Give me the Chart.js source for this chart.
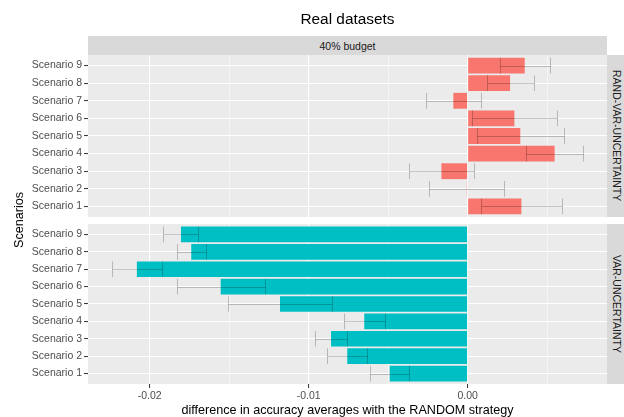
<!DOCTYPE html>
<html><head><meta charset="utf-8">
<script src="https://cdn.jsdelivr.net/npm/chart.js@4/dist/chart.umd.min.js"></script>
<style>
html,body{margin:0;padding:0;background:#fff;}
#wrap{position:relative;width:624px;height:417px;overflow:hidden;font-family:"Liberation Sans",Arial,sans-serif;}
canvas{position:absolute;left:0;top:0;}
.t{position:absolute;white-space:nowrap;}
.strip{position:absolute;background:#D9D9D9;color:#1A1A1A;font-size:10.5px;display:flex;align-items:center;justify-content:center;}
.vr{writing-mode:vertical-rl;}
</style></head><body>
<div id="wrap">
<canvas id="cTop" width="624" height="417" style="width:624px;height:417px"></canvas>
<canvas id="cBot" width="624" height="417" style="width:624px;height:417px"></canvas>
<div class="t" id="title" style="left:347.5px;top:11px;transform:translateX(-50%);font-size:15.4px;line-height:16px;color:#000">Real datasets</div>
<div class="strip" id="stripTop" style="left:88px;top:36px;width:519px;height:19px;"></div>
<div class="strip" id="stripR1" style="left:607px;top:55px;width:20px;height:162px;"><span class="vr"></span></div>
<div class="strip" id="stripR2" style="left:607px;top:224px;width:20px;height:160px;"><span class="vr"></span></div>
<div class="t" id="xtitle" style="left:347.5px;top:403px;transform:translateX(-50%);font-size:12.6px;line-height:14px;color:#000">difference in accuracy averages with the RANDOM strategy</div>
<div class="t" id="ytitle" style="left:19px;top:219.5px;transform:translate(-50%,-50%) rotate(-90deg);font-size:12.6px;line-height:14px;color:#000">Scenarios</div>
</div>
<script>
const categories = ['Scenario 1','Scenario 2','Scenario 3','Scenario 4','Scenario 5','Scenario 6','Scenario 7','Scenario 8','Scenario 9'];
const budgetLabel = '40% budget';
const strategies = ['RAND-VAR-UNCERTAINTY','VAR-UNCERTAINTY'];
const randVarMean = [0.00338, -0.00005, -0.00165, 0.00547, 0.00331, 0.00294, -0.0009, 0.00267, 0.00359];
const randVarSd   = [0.00257, 0.00236, 0.00206, 0.00181, 0.00272, 0.00265, 0.00173, 0.00148, 0.00156];
const varMean = [-0.0049, -0.00757, -0.00859, -0.0065, -0.0118, -0.01553, -0.0208, -0.01738, -0.01803];
const varSd   = [0.00123, 0.00126, 0.00100, 0.00129, 0.00325, 0.00276, 0.00159, 0.00092, 0.00110];
const xMajorTicks = [-0.02, -0.01, 0.00];
const xMinorTicks = [-0.015, -0.005, 0.005];

document.getElementById('stripTop').textContent = budgetLabel;
document.querySelector('#stripR1 span').textContent = strategies[0];
document.querySelector('#stripR2 span').textContent = strategies[1];

// ggplot-like continuous range: data extent with 5% expansion
const lows = randVarMean.map((m,i)=>m-randVarSd[i]).concat(varMean.map((m,i)=>m-varSd[i]));
const highs = randVarMean.map((m,i)=>m+randVarSd[i]).concat(varMean.map((m,i)=>m+varSd[i]));
const lo = Math.min(0, ...lows), hi = Math.max(0, ...highs);
const ext = (hi - lo) * 0.05;
const X_MIN = lo - ext, X_MAX = hi + ext;
const allXTicks = xMajorTicks.concat(xMinorTicks).sort((a,b)=>a-b);
const isMajor = v => xMajorTicks.some(t => Math.abs(t - v) < 1e-9);

const FONT = {family: '"Liberation Sans", Arial, sans-serif', size: 10.5};

const panelBg = {
  id: 'panelBg',
  beforeDraw(chart) {
    const {ctx, chartArea: a} = chart;
    ctx.save();
    ctx.fillStyle = '#EBEBEB';
    ctx.fillRect(a.left, a.top, a.right - a.left, a.bottom - a.top);
    ctx.restore();
  }
};
const errorBars = {
  id: 'errorBars',
  afterDatasetsDraw(chart) {
    const {ctx, scales: {x, y}} = chart;
    const ds = chart.data.datasets[0];
    ctx.save();
    ctx.strokeStyle = 'rgba(0,0,0,0.22)';
    ctx.lineWidth = 1;
    ds.data.forEach((p, i) => {
      const s = ds.sd[i];
      const x0 = Math.round(x.getPixelForValue(p.x - s)) + 0.5;
      const x1 = Math.round(x.getPixelForValue(p.x + s)) + 0.5;
      const yc = Math.round(y.getPixelForValue(p.y)) + 0.5;
      const yt = y.getPixelForValue(p.y + 0.45), yb = y.getPixelForValue(p.y - 0.45);
      ctx.beginPath();
      ctx.moveTo(x0, yc); ctx.lineTo(x1, yc);
      ctx.moveTo(x0, yt); ctx.lineTo(x0, yb);
      ctx.moveTo(x1, yt); ctx.lineTo(x1, yb);
      ctx.stroke();
    });
    ctx.restore();
  }
};

function makeChart(id, means, sds, color, top, bottomPad, showX) {
  return new Chart(document.getElementById(id), {
    type: 'bar',
    data: {
      datasets: [{
        data: categories.map((c, i) => ({x: means[i], y: i + 1})),
        sd: sds,
        backgroundColor: color,
        borderWidth: 0,
        barPercentage: 0.9,
        categoryPercentage: 1.0
      }]
    },
    options: {
      responsive: false,
      animation: false,
      indexAxis: 'y',
      layout: {padding: {left: 0, right: 624 - 607, top: top, bottom: bottomPad}},
      plugins: {legend: {display: false}, tooltip: {enabled: false}, title: {display: false}},
      scales: {
        x: {
          type: 'linear', min: X_MIN, max: X_MAX, offset: false,
          afterBuildTicks: ax => { ax.ticks = allXTicks.map(v => ({value: v})); },
          afterFit: ax => { ax.height = showX ? 33 : 0; },
          border: {display: false},
          grid: {
            offset: false,
            color: '#FFFFFF',
            lineWidth: c => (c.tick && isMajor(c.tick.value)) ? 1.1 : 0.55,
            drawTicks: showX,
            tickLength: 4,
            tickColor: c => (c.tick && isMajor(c.tick.value)) ? '#333333' : 'rgba(0,0,0,0)',
            tickWidth: 1
          },
          ticks: {
            display: showX, autoSkip: false, maxRotation: 0, padding: 2,
            color: '#4D4D4D', font: FONT,
            callback: v => isMajor(v) ? v.toFixed(2) : ''
          }
        },
        y: {
          type: 'linear', min: 0.4, max: 9.6, offset: false,
          afterBuildTicks: ax => { ax.ticks = categories.map((c, i) => ({value: i + 1})); },
          afterFit: ax => { ax.width = 88; },
          border: {display: false},
          grid: {offset: false, color: '#FFFFFF', lineWidth: 1.1, drawTicks: true, tickLength: 4, tickColor: '#333333', tickWidth: 1},
          ticks: {autoSkip: false, padding: 2, color: '#4D4D4D', font: FONT,
            callback: v => categories[Math.round(v) - 1]}
        }
      }
    },
    plugins: [panelBg, errorBars]
  });
}

makeChart('cTop', randVarMean, randVarSd, '#F8766D', 55, 417 - 217, false);
makeChart('cBot', varMean, varSd, '#00BFC4', 224, 0, true);
</script>
</body></html>
